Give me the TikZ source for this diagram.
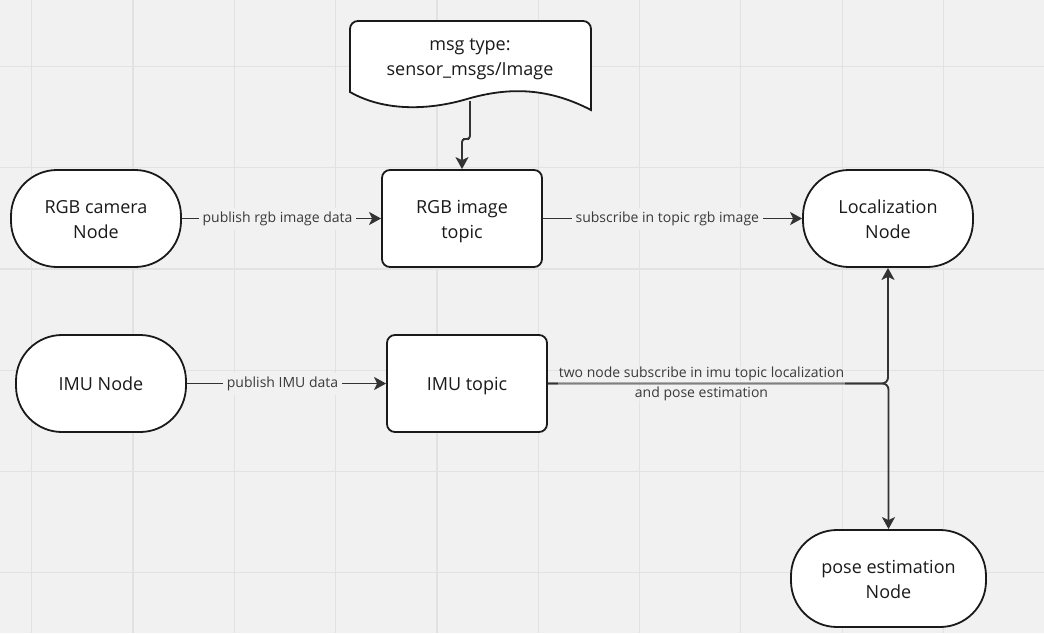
\documentclass[tikz,border=0pt]{standalone}
\usepackage{fontspec}
\setmainfont{Open Sans}
\usetikzlibrary{arrows.meta,calc}
\definecolor{bg}{HTML}{F1F1F1}
\definecolor{gridc}{HTML}{E2E2E2}
\definecolor{ink}{HTML}{1A1A1A}
\definecolor{conn}{HTML}{333333}
\definecolor{lbl}{HTML}{3A3A3A}
\newcommand\ndfont{\fontsize{18}{25}\selectfont}
\newcommand\lbfont{\fontsize{14}{20}\selectfont}
\newcommand\stt{\rule[-5.5pt]{0pt}{25pt}}
\begin{document}
\begin{tikzpicture}[x=1pt,y=-1pt,
  stadium/.style={draw=ink, line width=1.8pt, fill=white, minimum width=170pt, minimum height=97pt, rounded corners=46pt, align=center, font=\ndfont, text=ink, inner sep=0pt},
  topicbox/.style={draw=ink, line width=1.8pt, fill=white, minimum width=160pt, minimum height=97pt, rounded corners=8pt, align=center, font=\ndfont, text=ink, inner sep=0pt},
  arr/.style={draw=conn, line width=1.9pt, -{Stealth[length=12pt,width=13pt,inset=3pt]}},
  lab/.style={fill=bg, text=lbl, font=\lbfont, inner sep=4pt, align=center}]
\useasboundingbox (0,0) rectangle (1044,633);
\fill[bg] (0,0) rectangle (1044,633);
\foreach \i in {0,...,10} \draw[gridc, line width=1.2pt] ({31.7+101.3*\i},0) -- ++(0,633);
\foreach \i in {0,...,5} \draw[gridc, line width=1.2pt] (0,{66.3+101.3*\i}) -- ++(1044,0);

% document shape
\draw[ink, line width=1.8pt, fill=white, rounded corners=8pt]
  (350,92) -- (350,21) -- (591,21) [sharp corners] -- (591,110)
  .. controls (545,86) and (505,88) .. (467,99)
  .. controls (430,110) and (385,112) .. (350,92) -- cycle;
\node[font=\ndfont, text=ink, align=center, inner sep=0pt] (doc) at (470,56) {msg type:\stt\\sensor\_msgs/Image\stt};
\coordinate (docb) at (470,101);

\node[stadium] (cam) at (96,218.5) {RGB camera\stt\\Node\stt};
\node[topicbox] (rgbt) at (462,218.5) {RGB image\stt\\topic\stt};
\node[stadium] (loc) at (888,218.5) {Localization\stt\\Node\stt};
\node[stadium] (imu) at (101,383.5) {IMU Node\stt};
\node[topicbox] (imut) at (467,383.5) {IMU topic\stt};
\node[stadium, minimum width=195pt] (pose) at (888.5,578.5) {pose estimation\stt\\Node\stt};

\draw[arr, rounded corners=3pt] (docb) |- (466,139) -| (rgbt.north);
\draw[arr] (cam) -- node[lab, pos=0.48] {publish rgb image data} (rgbt);
\draw[arr] (rgbt) -- node[lab, pos=0.48] {subscribe in topic rgb image} (loc);
\draw[arr] (imu) -- node[lab, pos=0.48] {publish IMU data} (imut);
\draw[arr, rounded corners=6pt] (imut.east) -| (loc.south);
\draw[arr, rounded corners=6pt] (imut.east) -| (pose.north);
\node[text=lbl, font=\lbfont, align=center, fill=bg, fill opacity=0.4, text opacity=1, inner sep=1pt] (imulab) at (701.5,384) {two node subscribe in imu topic localization\\and pose estimation};
\end{tikzpicture}
\end{document}
